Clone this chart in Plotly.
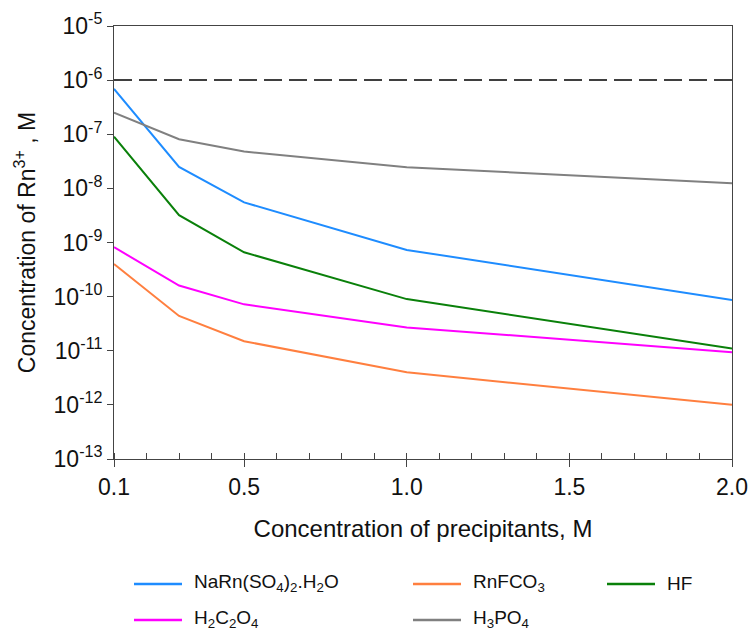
import plotly.graph_objects as go

# Precipitant concentration (M)
precipitant_conc = [0.1, 0.3, 0.5, 1.0, 2.0]

# Residual Rn3+ concentration (M) for each precipitant
naso4_h2o = [6.9e-7, 2.5e-8, 5.5e-9, 7.3e-10, 8.7e-11]
rnfco3 = [4.0e-10, 4.4e-11, 1.5e-11, 4.0e-12, 1.0e-12]
hf = [9.0e-8, 3.2e-9, 6.6e-10, 9.0e-11, 1.1e-11]
h2c2o4 = [8.2e-10, 1.6e-10, 7.2e-11, 2.7e-11, 9.4e-12]
h3po4 = [2.5e-7, 8.1e-8, 4.8e-8, 2.45e-8, 1.25e-8]

# Regulatory limit line
limit_value = 1e-6

series_names = ["NaRn(SO<sub>4</sub>)<sub>2</sub>.H<sub>2</sub>O", "RnFCO<sub>3</sub>", "HF",
                "H<sub>2</sub>C<sub>2</sub>O<sub>4</sub>", "H<sub>3</sub>PO<sub>4</sub>"]
series_values = [naso4_h2o, rnfco3, hf, h2c2o4, h3po4]
series_colors = ["#1E8CFF", "#FF7F3F", "#0A800A", "#FF00FF", "#808080"]

x_tick_vals = [0.1, 0.5, 1.0, 1.5, 2.0]
x_tick_text = ["0.1", "0.5", "1.0", "1.5", "2.0"]
y_exponents = [-13, -12, -11, -10, -9, -8, -7, -6, -5]

FONT = "Liberation Sans, Arial, sans-serif"
W, H = 748, 633
ML, MR, MT, MB = 114, 16, 26, 174

fig = go.Figure()

for name, vals, col in zip(series_names, series_values, series_colors):
    fig.add_trace(go.Scatter(x=precipitant_conc, y=vals, name=name, mode="lines",
                             line=dict(color=col, width=2), showlegend=False))

fig.add_trace(go.Scatter(x=[precipitant_conc[0], precipitant_conc[-1]],
                         y=[limit_value, limit_value], mode="lines",
                         line=dict(color="#000000", width=1.5, dash="18px,7px"),
                         showlegend=False, hoverinfo="skip"))

# Hand-placed legend in three columns below the axis
plot_w = W - ML - MR
plot_h = H - MT - MB


def px_x(px):
    return (px - ML) / plot_w


def px_y(py):
    return (H - MB - py) / plot_h


legend_slots = [(134, 584), (413, 584), (607, 584), (134, 620), (413, 620)]
for (lx, ly), name, col in zip(legend_slots, series_names, series_colors):
    fig.add_shape(type="line", xref="paper", yref="paper",
                  x0=px_x(lx), x1=px_x(lx + 48), y0=px_y(ly), y1=px_y(ly),
                  line=dict(color=col, width=2.5))
    fig.add_annotation(xref="paper", yref="paper", x=px_x(lx + 58), y=px_y(ly - 1),
                       xanchor="left", yanchor="middle", text=name, showarrow=False,
                       font=dict(family=FONT, size=19, color="#111111"))

axis_line = "#444444"
fig.update_layout(
    width=W, height=H,
    margin=dict(l=ML, r=MR, t=MT, b=MB, autoexpand=False),
    paper_bgcolor="white", plot_bgcolor="white",
    font=dict(family=FONT, size=23, color="#111111"),
    xaxis=dict(
        range=[0.1, 2.0], tickmode="array", tickvals=x_tick_vals, ticktext=x_tick_text,
        ticks="outside", ticklen=7, tickwidth=1, tickcolor=axis_line,
        minor=dict(ticks="inside", tickmode="linear", tick0=0.1, dtick=0.1,
                   ticklen=6, tickwidth=1, tickcolor=axis_line),
        showline=True, linecolor=axis_line, linewidth=1, mirror=True,
        showgrid=False, zeroline=False,
        tickfont=dict(size=23),
        title=dict(text="Concentration of precipitants, M", standoff=21,
                   font=dict(size=24)),
    ),
    yaxis=dict(
        type="log", range=[-13, -5],
        tickmode="array", tickvals=[10.0 ** e for e in y_exponents],
        ticktext=[f"10<sup>{e}</sup>" for e in y_exponents],
        ticks="outside", ticklen=6, tickwidth=1, tickcolor=axis_line,
        showline=True, linecolor=axis_line, linewidth=1, mirror=True,
        showgrid=False, zeroline=False,
        tickfont=dict(size=23),
        title=dict(text="Concentration of Rn<sup>3+</sup> , M", standoff=11,
                   font=dict(size=23)),
    ),
)

fig.write_html("out.html")
